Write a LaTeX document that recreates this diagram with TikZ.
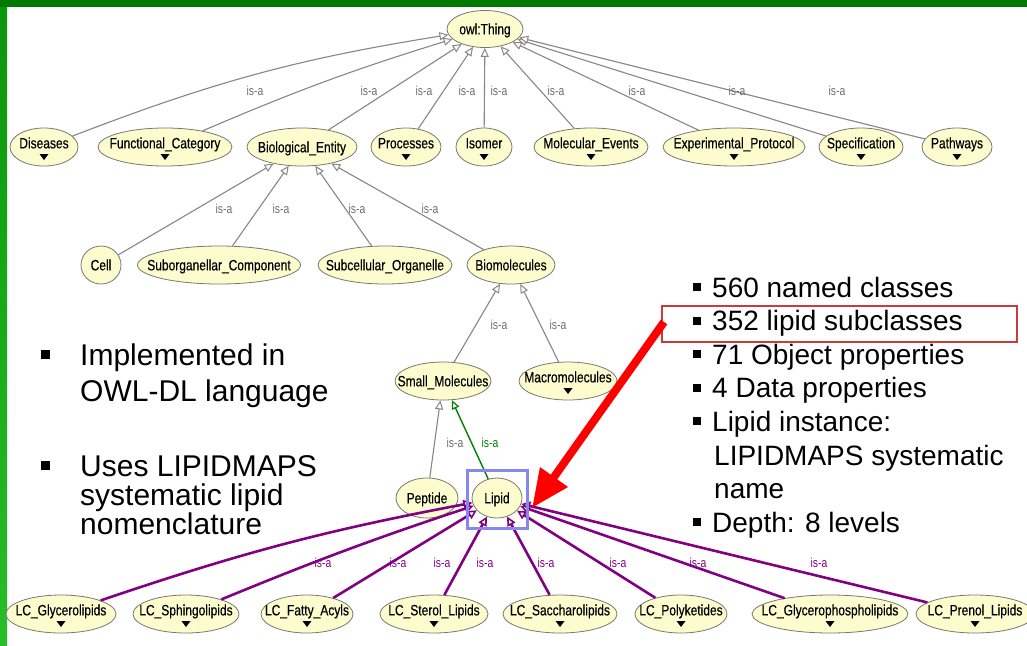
\documentclass[tikz,border=0pt]{standalone}
\usepackage{fontspec}
\setmainfont{Liberation Sans}
\newfontfamily\nodefnt[FakeStretch=0.8,FakeBold=0.4]{Liberation Sans}
\newfontfamily\isafnt[FakeStretch=0.8]{Liberation Sans}
\usetikzlibrary{arrows.meta,calc,shapes.geometric}

\definecolor{nodefill}{RGB}{252,252,206}
\definecolor{nodeline}{RGB}{120,120,110}
\definecolor{edgegray}{RGB}{135,135,135}
\definecolor{labelgray}{RGB}{110,110,110}
\definecolor{isapurple}{RGB}{130,0,130}
\definecolor{isagreen}{RGB}{0,128,0}
\definecolor{barA}{RGB}{0,122,0}
\definecolor{barB}{RGB}{10,150,10}
\definecolor{barC}{RGB}{40,190,40}
\definecolor{selblue}{RGB}{135,135,240}
\definecolor{boxred}{RGB}{200,60,60}

% centred label of zero width, optionally lifted to leave room for the expand marker
\newcommand\nm[1]{\makebox[0pt]{#1}}
\newcommand\nmc[1]{\raisebox{4pt}[0pt][0pt]{\makebox[0pt]{#1}}}

\tikzset{
  cls/.style={ellipse, draw=nodeline, fill=nodefill, line width=0.8pt,
    inner sep=0pt, text height=10.7pt, text depth=0pt,
    font=\nodefnt\fontsize{15}{16}\selectfont},
  isa/.style={inner sep=0pt, text=labelgray,
    font=\isafnt\fontsize{13}{14}\selectfont},
  isap/.style={isa, text=isapurple},
  isag/.style={isa, text=isagreen},
  subgray/.style={draw=edgegray, line width=1.1pt,
    -{Triangle[length=9pt,width=8pt,fill=white,line width=1pt]}},
  subgreen/.style={draw=isagreen, line width=1.4pt,
    -{Triangle[length=9pt,width=8pt,fill=white,line width=1.2pt]}},
  subpurple/.style={draw=isapurple, line width=2.6pt,
    -{Triangle[length=9pt,width=9pt,fill=white,line width=1.6pt]}},
  body/.style={anchor=base west, inner sep=0pt, font=\fontsize{30}{36}\selectfont},
  rbody/.style={anchor=base west, inner sep=0pt, font=\fontsize{28}{33}\selectfont},
}

\begin{document}
\begin{tikzpicture}[x=1pt,y=-1pt]
\useasboundingbox (0,0) rectangle (1027,645);
\clip (0,0) rectangle (1027,645);
\fill[white] (0,0) rectangle (1027,645);

% frame bars
\shade[top color=barB, bottom color=barC] (0,0) rectangle (7,645);
\fill[barA] (0,0) rectangle (1027,7);

% class hierarchy
\node[cls, minimum width=76pt, minimum height=37pt] (thing) at (485,29) {\nm{owl:Thing}};

\node[cls, minimum width=68pt,  minimum height=38pt] (dis)  at (44,147)  {\nmc{Diseases}};
\node[cls, minimum width=134pt, minimum height=38pt] (fc)   at (165,147) {\nmc{Functional\_Category}};
\node[cls, minimum width=110pt, minimum height=38pt] (be)   at (302,147) {\nm{Biological\_Entity}};
\node[cls, minimum width=70pt,  minimum height=38pt] (pr)   at (406,147) {\nmc{Processes}};
\node[cls, minimum width=56pt,  minimum height=38pt] (iso)  at (484,147) {\nmc{Isomer}};
\node[cls, minimum width=114pt, minimum height=38pt] (me)   at (591,147) {\nmc{Molecular\_Events}};
\node[cls, minimum width=142pt, minimum height=38pt] (ep)   at (734,147) {\nmc{Experimental\_Protocol}};
\node[cls, minimum width=84pt,  minimum height=38pt] (spec) at (861,147) {\nmc{Specification}};
\node[cls, minimum width=70pt,  minimum height=38pt] (path) at (957,147) {\nmc{Pathways}};

\node[cls, minimum width=40pt,  minimum height=38pt] (cell) at (101,265) {\nm{Cell}};
\node[cls, minimum width=163pt, minimum height=38pt] (sub)  at (219,265) {\nm{Suborganellar\_Component}};
\node[cls, minimum width=134pt, minimum height=38pt] (sco)  at (385,265) {\nm{Subcellular\_Organelle}};
\node[cls, minimum width=88pt,  minimum height=38pt] (bio)  at (511,265) {\nm{Biomolecules}};

\node[cls, minimum width=96pt,  minimum height=38pt] (sm)   at (443,381) {\nm{Small\_Molecules}};
\node[cls, minimum width=98pt,  minimum height=38pt] (mac)  at (568,381) {\nmc{Macromolecules}};

\node[cls, minimum width=62pt,  minimum height=40pt] (pep)  at (427,498) {\nm{Peptide}};
\node[cls, minimum width=50pt,  minimum height=40pt] (lip)  at (497,498) {\nm{Lipid}};

\node[cls, minimum width=110pt, minimum height=38pt] (g1) at (61,614)  {\nmc{LC\_Glycerolipids}};
\node[cls, minimum width=106pt, minimum height=38pt] (g2) at (186,614) {\nmc{LC\_Sphingolipids}};
\node[cls, minimum width=92pt,  minimum height=38pt] (g3) at (307,614) {\nmc{LC\_Fatty\_Acyls}};
\node[cls, minimum width=108pt, minimum height=38pt] (g4) at (434,614) {\nmc{LC\_Sterol\_Lipids}};
\node[cls, minimum width=114pt, minimum height=38pt] (g5) at (560,614) {\nmc{LC\_Saccharolipids}};
\node[cls, minimum width=92pt,  minimum height=38pt] (g6) at (681,614) {\nmc{LC\_Polyketides}};
\node[cls, minimum width=156pt, minimum height=38pt] (g7) at (830,614) {\nmc{LC\_Glycerophospholipids}};
\node[cls, minimum width=118pt, minimum height=38pt] (g8) at (975,614) {\nmc{LC\_Prenol\_Lipids}};

% expand markers of collapsed classes
\foreach \n in {dis,fc,pr,iso,me,ep,spec,path,mac,g1,g2,g3,g4,g5,g6,g7,g8}
  \fill ($(\n.center)+(-4.5,7)$) -- ++(9,0) -- ++(-4.5,6) -- cycle;

% is-a links to owl:Thing
\draw[subgray] (dis)  to[bend left=6] (thing);
\draw[subgray] (fc)   to[bend left=3] (thing);
\draw[subgray] (be)   -- (thing);
\draw[subgray] (pr)   -- (thing);
\draw[subgray] (iso)  -- (thing);
\draw[subgray] (me)   -- (thing);
\draw[subgray] (ep)   -- (thing);
\draw[subgray] (spec) -- (thing);
\draw[subgray] (path) -- (thing);
\node[isa] (a1) at (255,91) {is-a};
\node[isa] (a2) at (369,91) {is-a};
\node[isa] (a3) at (424,91) {is-a};
\node[isa] (a4) at (467,91) {is-a};
\node[isa] (a5) at (499,91) {is-a};
\node[isa] (a6) at (556,91) {is-a};
\node[isa] (a7) at (637,91) {is-a};
\node[isa] (a8) at (737,91) {is-a};
\node[isa] (a9) at (837,91) {is-a};

% is-a links to Biological_Entity
\draw[subgray] (cell) -- (be);
\draw[subgray] (sub)  -- (be);
\draw[subgray] (sco)  -- (be);
\draw[subgray] (bio)  -- (be);
\node[isa] (b1) at (224,209) {is-a};
\node[isa] (b2) at (281,209) {is-a};
\node[isa] (b3) at (357,209) {is-a};
\node[isa] (b4) at (430,209) {is-a};

% is-a links to Biomolecules and Small_Molecules
\draw[subgray] (sm)  -- (bio);
\draw[subgray] (mac) -- (bio);
\node[isa] (c1) at (499,325) {is-a};
\node[isa] (c2) at (558,325) {is-a};
\draw[subgray]  (pep) -- (sm);
\draw[subgreen] (lip) -- (sm);
\node[isa]  (d1) at (455,443) {is-a};
\node[isag] (d2) at (490,443) {is-a};

% is-a links to Lipid
\draw[subpurple] (g1) to[bend left=4] (lip);
\draw[subpurple] (g2) to[bend left=2] (lip);
\draw[subpurple] (g3) -- (lip);
\draw[subpurple] (g4) -- (lip);
\draw[subpurple] (g5) -- (lip);
\draw[subpurple] (g6) -- (lip);
\draw[subpurple] (g7) -- (lip);
\draw[subpurple] (g8) -- (lip);
\node[isap] (e1) at (323,563) {is-a};
\node[isap] (e2) at (398,563) {is-a};
\node[isap] (e3) at (442,563) {is-a};
\node[isap] (e4) at (485,563) {is-a};
\node[isap] (e5) at (546,563) {is-a};
\node[isap] (e6) at (618,563) {is-a};
\node[isap] (e7) at (698,563) {is-a};
\node[isap] (e8) at (819,563) {is-a};

% selection frame around Lipid
\draw[selblue, line width=3pt] ($(lip.center)+(-30,-28)$) rectangle ($(lip.center)+(30,30)$);

% left bullet list
\fill (40.5,349.5) rectangle (49.5,358.5);
\node[body] (t1) at (80,365) {Implemented in};
\node[body] (t2) at (80,401) {OWL-DL language};
\fill (40.5,460.5) rectangle (49.5,469.5);
\node[body] (t3) at (80,476) {Uses LIPIDMAPS};
\node[body] (t4) at (80,505) {systematic lipid};
\node[body] (t5) at (80,534) {nomenclature};

% right bullet list
\foreach \y in {297,330.6,364.2,397.8,431.4,532.2}
  \fill (693,\y-14) rectangle (701,\y-6);
\node[rbody] (r1) at (712,297)   {560 named classes};
\node[rbody] (r2) at (712,330.6) {352 lipid subclasses};
\node[rbody] (r3) at (712,364.2) {71 Object properties};
\node[rbody] (r4) at (712,397.8) {4 Data properties};
\node[rbody] (r5) at (712,431.4) {Lipid instance:};
\node[rbody] (r6) at (714,465)   {LIPIDMAPS systematic};
\node[rbody] (r7) at (714,498.6) {name};
\node[rbody] (r8) at (712,532.2) {Depth: 8 levels};

% highlight box and pointer arrow
\draw[boxred, line width=1.3pt] (662,306) rectangle (1017,342);
\coordinate (rt) at (664,322);
\coordinate (rh) at (532,508);
\draw[red, line width=8pt, -{Triangle[length=38pt,width=32pt]}] (rt) -- (rh);
\end{tikzpicture}
\end{document}
